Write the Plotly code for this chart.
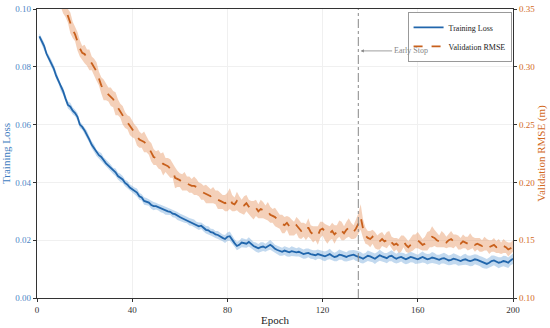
import plotly.graph_objects as go

epochs = list(range(1, 201))

train_loss = [
0.0905,0.0890,0.0872,0.0845,0.0830,0.0812,0.0795,0.0770,0.0752,0.0728,
0.0715,0.0690,0.0668,0.0662,0.0648,0.0640,0.0627,0.0600,0.0592,0.0580,
0.0566,0.0548,0.0530,0.0518,0.0502,0.0494,0.0488,0.0475,0.0466,0.0458,
0.0450,0.0440,0.0435,0.0422,0.0416,0.0410,0.0398,0.0392,0.0382,0.0376,
0.0370,0.0365,0.0352,0.0348,0.0336,0.0334,0.0330,0.0322,0.0318,0.0318,
0.0314,0.0310,0.0306,0.0302,0.0300,0.0298,0.0292,0.0290,0.0284,0.0280,
0.0276,0.0272,0.0270,0.0264,0.0262,0.0258,0.0252,0.0248,0.0250,0.0242,
0.0236,0.0234,0.0228,0.0226,0.0220,0.0218,0.0212,0.0208,0.0204,0.0212,
0.0214,0.0200,0.0190,0.0180,0.0184,0.0192,0.0190,0.0188,0.0194,0.0186,
0.0180,0.0176,0.0172,0.0176,0.0178,0.0174,0.0180,0.0184,0.0178,0.0170,
0.0166,0.0162,0.0160,0.0164,0.0160,0.0158,0.0162,0.0160,0.0158,0.0160,
0.0156,0.0152,0.0154,0.0156,0.0152,0.0150,0.0148,0.0152,0.0150,0.0146,
0.0144,0.0148,0.0152,0.0146,0.0142,0.0144,0.0150,0.0148,0.0144,0.0142,
0.0146,0.0148,0.0150,0.0146,0.0144,0.0140,0.0136,0.0140,0.0146,0.0144,
0.0140,0.0136,0.0142,0.0148,0.0144,0.0140,0.0138,0.0144,0.0146,0.0140,
0.0136,0.0140,0.0142,0.0138,0.0134,0.0138,0.0142,0.0140,0.0136,0.0134,
0.0138,0.0142,0.0138,0.0134,0.0136,0.0140,0.0138,0.0134,0.0132,0.0136,
0.0138,0.0134,0.0130,0.0132,0.0136,0.0134,0.0130,0.0128,0.0132,0.0134,
0.0130,0.0128,0.0130,0.0134,0.0132,0.0128,0.0124,0.0120,0.0118,0.0122,
0.0128,0.0130,0.0126,0.0122,0.0124,0.0128,0.0126,0.0122,0.0130,0.0136,
]

train_std = [
0.0010,0.0011,0.0012,0.0010,0.0011,0.0013,0.0012,0.0011,0.0010,0.0012,
0.0013,0.0011,0.0012,0.0014,0.0012,0.0011,0.0013,0.0012,0.0010,0.0012,
0.0013,0.0011,0.0012,0.0013,0.0011,0.0012,0.0014,0.0012,0.0011,0.0013,
0.0012,0.0011,0.0013,0.0012,0.0014,0.0012,0.0011,0.0013,0.0012,0.0011,
0.0012,0.0014,0.0012,0.0011,0.0013,0.0012,0.0011,0.0013,0.0014,0.0012,
0.0011,0.0013,0.0012,0.0014,0.0012,0.0011,0.0013,0.0012,0.0014,0.0012,
0.0013,0.0012,0.0011,0.0013,0.0012,0.0014,0.0012,0.0013,0.0011,0.0012,
0.0013,0.0014,0.0012,0.0013,0.0012,0.0014,0.0013,0.0012,0.0014,0.0015,
0.0016,0.0014,0.0013,0.0015,0.0014,0.0016,0.0015,0.0014,0.0016,0.0015,
0.0014,0.0016,0.0015,0.0017,0.0015,0.0014,0.0016,0.0017,0.0015,0.0014,
0.0015,0.0016,0.0014,0.0015,0.0016,0.0015,0.0017,0.0015,0.0014,0.0016,
0.0015,0.0016,0.0017,0.0015,0.0016,0.0015,0.0017,0.0016,0.0015,0.0016,
0.0017,0.0016,0.0018,0.0016,0.0015,0.0017,0.0018,0.0016,0.0017,0.0016,
0.0018,0.0017,0.0016,0.0018,0.0017,0.0019,0.0017,0.0016,0.0018,0.0017,
0.0016,0.0018,0.0017,0.0019,0.0017,0.0016,0.0018,0.0017,0.0019,0.0018,
0.0017,0.0018,0.0016,0.0018,0.0017,0.0019,0.0018,0.0017,0.0018,0.0016,
0.0018,0.0019,0.0017,0.0018,0.0017,0.0019,0.0018,0.0016,0.0018,0.0017,
0.0019,0.0018,0.0017,0.0018,0.0019,0.0017,0.0018,0.0016,0.0018,0.0019,
0.0017,0.0018,0.0019,0.0017,0.0018,0.0017,0.0019,0.0018,0.0017,0.0018,
0.0019,0.0017,0.0018,0.0019,0.0017,0.0018,0.0019,0.0018,0.0017,0.0018,
]

val_rmse = [
0.402,0.398,0.392,0.386,0.382,0.376,0.372,0.368,0.362,0.358,
0.354,0.350,0.344,0.338,0.332,0.328,0.322,0.316,0.312,0.311,
0.308,0.306,0.303,0.300,0.296,0.290,0.284,0.280,0.278,0.276,
0.274,0.272,0.268,0.265,0.262,0.258,0.254,0.252,0.249,0.246,
0.244,0.240,0.237,0.236,0.235,0.233,0.230,0.226,0.222,0.221,
0.220,0.218,0.216,0.215,0.214,0.212,0.210,0.204,0.203,0.202,
0.200,0.201,0.199,0.198,0.197,0.197,0.196,0.194,0.192,0.191,
0.190,0.189,0.188,0.189,0.187,0.185,0.184,0.183,0.182,0.183,
0.186,0.182,0.181,0.184,0.181,0.179,0.180,0.182,0.179,0.177,
0.176,0.178,0.175,0.177,0.176,0.174,0.175,0.172,0.171,0.170,
0.168,0.166,0.164,0.163,0.165,0.162,0.161,0.160,0.163,0.160,
0.158,0.159,0.157,0.161,0.157,0.155,0.156,0.154,0.159,0.160,
0.157,0.155,0.156,0.158,0.155,0.157,0.160,0.158,0.156,0.159,
0.161,0.158,0.157,0.160,0.164,0.170,0.160,0.154,0.152,0.151,
0.153,0.150,0.148,0.149,0.151,0.149,0.150,0.152,0.148,0.146,
0.147,0.145,0.147,0.149,0.146,0.144,0.146,0.148,0.149,0.150,
0.148,0.146,0.147,0.149,0.151,0.153,0.152,0.150,0.149,0.151,
0.150,0.148,0.150,0.151,0.149,0.150,0.148,0.147,0.149,0.148,
0.147,0.149,0.148,0.146,0.147,0.146,0.145,0.147,0.146,0.144,
0.145,0.146,0.144,0.145,0.143,0.145,0.144,0.142,0.143,0.145,
]

val_std = [
0.007,0.008,0.007,0.006,0.008,0.007,0.006,0.008,0.007,0.006,
0.008,0.007,0.006,0.009,0.007,0.006,0.008,0.007,0.006,0.008,
0.007,0.009,0.006,0.007,0.008,0.006,0.007,0.009,0.007,0.006,
0.008,0.007,0.010,0.007,0.006,0.008,0.007,0.006,0.008,0.007,
0.006,0.008,0.007,0.006,0.009,0.007,0.006,0.008,0.007,0.006,
0.008,0.007,0.010,0.006,0.007,0.008,0.006,0.009,0.007,0.006,
0.007,0.008,0.006,0.007,0.006,0.008,0.007,0.006,0.007,0.006,
0.008,0.007,0.006,0.007,0.006,0.008,0.007,0.006,0.007,0.008,
0.009,0.007,0.006,0.008,0.007,0.006,0.008,0.007,0.006,0.007,
0.008,0.007,0.006,0.008,0.007,0.006,0.008,0.007,0.006,0.008,
0.007,0.006,0.008,0.007,0.006,0.008,0.007,0.006,0.007,0.008,
0.007,0.006,0.007,0.008,0.006,0.007,0.006,0.008,0.007,0.006,
0.007,0.008,0.006,0.007,0.008,0.006,0.007,0.008,0.006,0.007,
0.008,0.007,0.006,0.008,0.009,0.011,0.008,0.007,0.006,0.007,
0.006,0.007,0.006,0.007,0.006,0.005,0.007,0.006,0.005,0.006,
0.005,0.006,0.007,0.005,0.006,0.005,0.006,0.007,0.006,0.007,
0.006,0.005,0.006,0.008,0.007,0.009,0.007,0.006,0.005,0.007,
0.006,0.005,0.006,0.007,0.006,0.005,0.006,0.005,0.006,0.005,
0.006,0.007,0.005,0.006,0.005,0.006,0.005,0.006,0.005,0.006,
0.005,0.006,0.005,0.006,0.005,0.006,0.005,0.006,0.005,0.005,
]

early_stop_epoch = 135
x_ticks = [0, 40, 80, 120, 160, 200]
left_ticks = [0.00, 0.02, 0.04, 0.06, 0.08, 0.10]
right_ticks = [0.10, 0.15, 0.20, 0.25, 0.30, 0.35]

BLUE = "#2166ac"
ORANGE = "#c8601c"
FONT = "Liberation Serif"

fig = go.Figure()

tr_up = [m + s for m, s in zip(train_loss, train_std)]
tr_lo = [m - s for m, s in zip(train_loss, train_std)]
va_up = [m + s for m, s in zip(val_rmse, val_std)]
va_lo = [m - s for m, s in zip(val_rmse, val_std)]

fig.add_trace(go.Scatter(x=epochs + epochs[::-1], y=tr_up + tr_lo[::-1], fill="toself",
                         fillcolor="rgba(80,145,210,0.35)", line=dict(width=0),
                         hoverinfo="skip", showlegend=False))
fig.add_trace(go.Scatter(x=epochs + epochs[::-1], y=va_up + va_lo[::-1], fill="toself",
                         fillcolor="rgba(230,150,100,0.45)", line=dict(width=0),
                         hoverinfo="skip", showlegend=False, yaxis="y2"))
fig.add_trace(go.Scatter(x=epochs, y=train_loss, mode="lines", name="Training Loss",
                         line=dict(color=BLUE, width=1.8)))
fig.add_trace(go.Scatter(x=epochs, y=val_rmse, mode="lines", name="Validation RMSE",
                         line=dict(color=ORANGE, width=1.8, dash="dash"), yaxis="y2"))

fig.add_shape(type="line", x0=early_stop_epoch, x1=early_stop_epoch, y0=0, y1=1,
              xref="x", yref="paper", line=dict(color="#888888", width=1, dash="dashdot"))

fig.add_annotation(x=early_stop_epoch + 1, y=0.0855, ax=157, ay=0.0855, axref="x", ayref="y",
                   xref="x", yref="y", text="Early Stop", showarrow=True, arrowhead=2,
                   arrowsize=0.8, arrowwidth=0.8, arrowcolor="#888888",
                   font=dict(family=FONT, size=8, color="#888888"))

axis_common = dict(showline=True, linecolor="#333333", linewidth=1.2, ticks="outside",
                   ticklen=3, tickcolor="#333333", zeroline=False, automargin=False,
                   gridcolor="#f0f0f0", gridwidth=0.6)

fig.update_layout(
    width=550, height=328,
    margin=dict(l=37, r=37, t=9, b=30, autoexpand=False),
    paper_bgcolor="white", plot_bgcolor="white",
    font=dict(family=FONT, size=9, color="#222222"),
    xaxis=dict(range=[0, 200], tickvals=x_ticks, mirror=True,
               title=dict(text="Epoch", font=dict(size=11, color="#222222"), standoff=2),
               tickfont=dict(size=9, color="#333333"), **axis_common),
    yaxis=dict(range=[0, 0.10], tickvals=left_ticks, tickformat=".2f",
               title=dict(text="Training Loss", font=dict(size=11, color="#3d7cc0"), standoff=2),
               tickfont=dict(size=9, color="#4d86c6"), **axis_common),
    yaxis2=dict(range=[0.10, 0.35], tickvals=right_ticks, tickformat=".2f", overlaying="y",
                side="right", showgrid=False,
                title=dict(text="Validation RMSE (m)", font=dict(size=11, color="#d2691e"), standoff=2),
                tickfont=dict(size=9, color="#d2691e"),
                **{k: v for k, v in axis_common.items() if k not in ("gridcolor", "gridwidth")}),
    legend=dict(x=0.997, y=0.99, xanchor="right", yanchor="top", bgcolor="white",
                bordercolor="#999999", borderwidth=1, font=dict(family=FONT, size=8, color="#222222"),
                tracegroupgap=0, itemwidth=30),
    showlegend=True,
)

fig.write_html("out.html", config={"displayModeBar": False},
               post_script="document.body.style.margin='0';")
